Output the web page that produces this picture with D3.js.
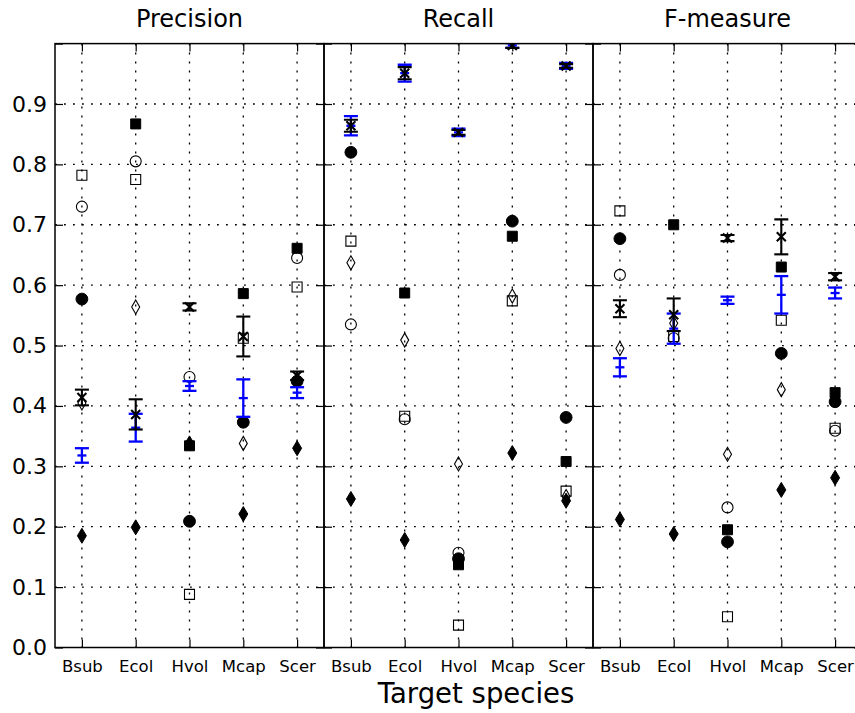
<!DOCTYPE html>
<html>
<head>
<meta charset="utf-8">
<script src="https://cdn.jsdelivr.net/npm/d3@7"></script>
<style>
  html, body { margin: 0; padding: 0; background: #fff; }
  svg { display: block; }
  text { font-family: "DejaVu Sans", sans-serif; fill: #000; }
</style>
</head>
<body>
<script>
// ---------------- DATA ----------------
const categories = ["Bsub", "Ecol", "Hvol", "Mcap", "Scer"];
const metrics = ["Precision", "Recall", "F-measure"];
const yTickValues = [0.0, 0.1, 0.2, 0.3, 0.4, 0.5, 0.6, 0.7, 0.8, 0.9];
const xAxisTitle = "Target species";

// each array: Precision (5 species), Recall (5 species), F-measure (5 species)
const openSquare    = [0.782, 0.775, 0.088, 0.512, 0.597,  0.673, 0.383, 0.037, 0.574, 0.259,  0.723, 0.515, 0.051, 0.542, 0.363];
const openCircle    = [0.730, 0.805, 0.448, null,  0.645,  0.535, 0.378, 0.157, null,  null,   0.617, 0.512, 0.232, null,  0.359];
const filledCircle  = [0.577, null,  0.209, 0.373, 0.441,  0.820, null,  0.147, 0.706, 0.381,  0.677, null,  0.175, 0.487, 0.407];
const filledSquare  = [null,  0.867, 0.334, 0.586, 0.661,  null,  0.587, 0.137, 0.681, 0.308,  null,  0.700, 0.195, 0.630, 0.422];
const openDiamond   = [0.405, 0.564, null,  0.338, null,   0.637, 0.509, 0.304, 0.582, 0.250,  0.495, 0.537, 0.320, 0.427, null];
const filledDiamond = [0.185, 0.199, 0.338, 0.221, 0.330,  0.246, 0.178, null,  0.322, 0.243,  0.212, 0.188, null,  0.261, 0.281];

const meanBlack = [0.414, 0.386, 0.564, 0.515, 0.450,  0.864, 0.951, 0.853, 0.997, 0.963,  0.561, 0.551, 0.678, 0.680, 0.614];
const errBlack  = [0.013, 0.025, 0.006, 0.033, 0.007,  0.010, 0.010, 0.004, 0.004, 0.003,  0.014, 0.027, 0.005, 0.029, 0.006];
const meanBlue  = [0.318, 0.364, 0.433, 0.413, 0.422,  0.864, 0.951, 0.853, 0.997, 0.963,  0.464, 0.528, 0.575, 0.584, 0.587];
const errBlue   = [0.012, 0.023, 0.008, 0.031, 0.009,  0.016, 0.014, 0.006, 0.004, 0.005,  0.015, 0.025, 0.006, 0.031, 0.009];

// ---------------- LAYOUT ----------------
const W = 855, H = 713;
const panelLeft = [55, 324, 593];
const panelW = 269;
const plotTop = 43.6, plotBottom = 647.5;

const svg = d3.select("body").append("svg").attr("width", W).attr("height", H);

const y = d3.scaleLinear().domain([0, 1]).range([plotBottom, plotTop]);

const defs = svg.append("defs");

const sym = {
  square: d3.symbol().type(d3.symbolSquare).size(100)(),
  circle: d3.symbol().type(d3.symbolCircle).size(95)(),
  fcircle: d3.symbol().type(d3.symbolCircle).size(110)(),
};
function diamondPath(w, h) {
  return `M0,${-h/2}L${w/2},0L0,${h/2}L${-w/2},0Z`;
}

metrics.forEach((m, mi) => {
  const x0 = panelLeft[mi];
  const x = d3.scalePoint().domain(categories).range([x0, x0 + panelW]).padding(0.5);
  const g = svg.append("g");

  const clipId = "clip" + mi;
  defs.append("clipPath").attr("id", clipId)
    .append("rect").attr("x", x0).attr("y", plotTop).attr("width", panelW).attr("height", plotBottom - plotTop);

  // grid
  const grid = g.append("g").attr("stroke", "#000").attr("stroke-width", 1.3)
    .attr("stroke-dasharray", "1.8,7.2").attr("fill", "none");
  grid.selectAll("line.h").data(yTickValues.slice(1)).join("line").attr("class", "h")
    .attr("x1", x0).attr("x2", x0 + panelW)
    .attr("y1", d => y(d)).attr("y2", d => y(d));
  grid.selectAll("line.v").data(categories).join("line").attr("class", "v")
    .attr("x1", d => x(d)).attr("x2", d => x(d))
    .attr("y1", plotTop).attr("y2", plotBottom);

  const plot = g.append("g").attr("clip-path", `url(#${clipId})`);
  const idx = categories.map((c, i) => ({ c, i: mi * 5 + i }));

  function drawPoints(arr, path, fill, stroke, sw) {
    plot.append("g").selectAll("path")
      .data(idx.filter(d => arr[d.i] !== null))
      .join("path")
      .attr("d", path)
      .attr("transform", d => `translate(${x(d.c)},${y(arr[d.i])})`)
      .attr("fill", fill).attr("stroke", stroke).attr("stroke-width", sw);
  }

  drawPoints(openSquare, sym.square, "none", "#000", 1.1);
  drawPoints(openCircle, sym.circle, "none", "#000", 1.1);
  drawPoints(openDiamond, diamondPath(8, 14), "none", "#000", 1.1);
  drawPoints(filledSquare, sym.square, "#000", "#000", 1);
  drawPoints(filledCircle, sym.fcircle, "#000", "#000", 1);
  drawPoints(filledDiamond, diamondPath(9, 15), "#000", "#000", 1);

  function drawErr(mean, err, color, marker, lw) {
    const eg = plot.append("g").attr("stroke", color).attr("fill", "none").attr("stroke-width", lw);
    const cap = 7;
    idx.forEach(d => {
      const cx = x(d.c), mv = mean[d.i], e = err[d.i];
      eg.append("line").attr("x1", cx).attr("x2", cx).attr("y1", y(mv - e)).attr("y2", y(mv + e));
      eg.append("line").attr("x1", cx - cap).attr("x2", cx + cap).attr("y1", y(mv - e)).attr("y2", y(mv - e));
      eg.append("line").attr("x1", cx - cap).attr("x2", cx + cap).attr("y1", y(mv + e)).attr("y2", y(mv + e));
      const cy = y(mv);
      if (marker === "x") {
        eg.append("path").attr("d", `M${cx-4.5},${cy-4.5}L${cx+4.5},${cy+4.5}M${cx-4.5},${cy+4.5}L${cx+4.5},${cy-4.5}`);
      } else {
        eg.append("path").attr("d", `M${cx-4.5},${cy}L${cx+4.5},${cy}`);
      }
    });
  }
  drawErr(meanBlue, errBlue, "#0000ff", "+", 2.3);
  drawErr(meanBlack, errBlack, "#000", "x", 2.1);

  // axes (ticks pointing inward)
  const allY = yTickValues.concat([1.0]);
  const axL = g.append("g").attr("transform", `translate(${x0},0)`)
    .call(d3.axisRight(y).tickValues(allY).tickSize(8).tickFormat(""));
  const axR = g.append("g").attr("transform", `translate(${x0 + panelW},0)`)
    .call(d3.axisLeft(y).tickValues(allY).tickSize(8).tickFormat(""));
  const axT = g.append("g").attr("transform", `translate(0,${plotTop})`)
    .call(d3.axisBottom(x).tickSize(8).tickFormat(""));
  const axB = g.append("g").attr("transform", `translate(0,${plotBottom})`)
    .call(d3.axisTop(x).tickSize(8).tickFormat(""));
  [axL, axR, axT, axB].forEach(a => {
    a.select(".domain").remove();
    a.selectAll(".tick line").attr("stroke", "#000").attr("stroke-width", 1.2);
  });

  // border
  g.append("rect").attr("x", x0).attr("y", plotTop).attr("width", panelW).attr("height", plotBottom - plotTop)
    .attr("fill", "none").attr("stroke", "#000").attr("stroke-width", 1.5);

  // x tick labels
  const xl = g.append("g").attr("transform", `translate(0,${plotBottom})`)
    .call(d3.axisBottom(x).tickSize(0).tickPadding(12.5));
  xl.select(".domain").remove();
  xl.selectAll("text").attr("font-size", "16.5px").attr("font-family", "DejaVu Sans").attr("fill", "#000");

  // y tick labels (first panel only)
  if (mi === 0) {
    const yl = g.append("g").attr("transform", `translate(${x0},0)`)
      .call(d3.axisLeft(y).tickValues(yTickValues).tickSize(0).tickPadding(8).tickFormat(d3.format(".1f")));
    yl.select(".domain").remove();
    yl.selectAll("text").attr("font-size", "22px").attr("font-family", "DejaVu Sans").attr("fill", "#000");
  }

  // panel title
  g.append("text").attr("x", x0 + panelW / 2).attr("y", 27.3)
    .attr("text-anchor", "middle").attr("font-size", "24px").text(m);
});

svg.append("text").attr("x", 476).attr("y", 703)
  .attr("text-anchor", "middle").attr("font-size", "27.5px").text(xAxisTitle);
</script>
</body>
</html>
